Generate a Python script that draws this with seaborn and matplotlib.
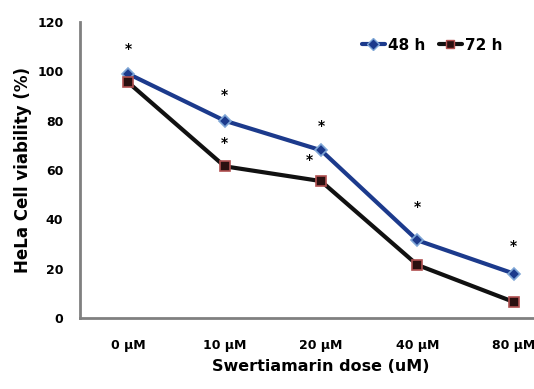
import matplotlib
matplotlib.use("Agg")
import matplotlib.pyplot as plt
import seaborn as sns
import pandas as pd
from matplotlib.lines import Line2D

doses = ["0 µM", "10 µM", "20 µM", "40 µM", "80 µM"]
viab_48 = [99, 80, 68, 31.5, 18]
viab_72 = [95.5, 61.5, 55.5, 21.5, 6.5]
star_48 = [109, 90.5, 78, 45, 29]
star_72 = [None, 71, 64, None, None]
yticks = [0, 20, 40, 60, 80, 100, 120]

sns.set_style("white")
plt.rcParams["font.family"] = ["DejaVu Sans"]
plt.rcParams["font.weight"] = "bold"
plt.rcParams["text.color"] = "black"
plt.rcParams["axes.labelcolor"] = "black"
plt.rcParams["xtick.color"] = "black"
plt.rcParams["ytick.color"] = "black"

df = pd.DataFrame({
    "pos": list(range(len(doses))) * 2,
    "dose": doses * 2,
    "viab": viab_48 + viab_72,
    "time": ["48 h"] * len(doses) + ["72 h"] * len(doses),
})

fig = plt.figure(figsize=(5.34, 3.89), dpi=100)
ax = fig.add_axes([80 / 534, 71 / 389, 482 / 534, 296 / 389])

navy = "#1c3a8c"
sns.lineplot(data=df[df.time == "48 h"], x="pos", y="viab", ax=ax, color=navy,
             lw=3, marker="D", markersize=6, markerfacecolor=navy,
             markeredgecolor="#7ea6d6", markeredgewidth=1.2, legend=False)
sns.lineplot(data=df[df.time == "72 h"], x="pos", y="viab", ax=ax, color="#111111",
             lw=3, marker="s", markersize=7, markerfacecolor="#2a1010",
             markeredgecolor="#b05050", markeredgewidth=1.2, legend=False)

for i, s in enumerate(star_48):
    if s is not None:
        ax.text(i, s, "*", ha="center", va="center", fontsize=10, fontweight="bold", color="black")
offs = [0, 0, -0.12, 0, 0]
for i, s in enumerate(star_72):
    if s is not None:
        ax.text(i + offs[i], s, "*", ha="center", va="center", fontsize=10, fontweight="bold", color="black")

ax.set_xlim(-0.5, 4.5)
ax.set_ylim(0, 120)
ax.set_xticks(range(len(doses)))
ax.set_xticklabels(doses)
ax.set_yticks(yticks)
ax.set_yticklabels([str(v) for v in yticks])
ax.tick_params(axis="x", length=0, pad=15, labelsize=9, labelcolor="black")
ax.tick_params(axis="y", length=0, pad=12, labelsize=9, labelcolor="black")
for lab in ax.get_xticklabels() + ax.get_yticklabels():
    lab.set_fontweight("bold")
ax.set_xlabel("Swertiamarin dose (uM)", fontsize=11.5, fontweight="bold", labelpad=5, color="black")
ax.set_ylabel("HeLa Cell viability (%)", fontsize=12, fontweight="bold", labelpad=4, color="black")

for side in ["top", "right"]:
    ax.spines[side].set_visible(False)
for side in ["left", "bottom"]:
    ax.spines[side].set_color("#808080")
    ax.spines[side].set_linewidth(2)

handles = [
    Line2D([], [], color=navy, lw=3, marker="D", markersize=6, markerfacecolor=navy,
           markeredgecolor="#7ea6d6"),
    Line2D([], [], color="#111111", lw=3, marker="s", markersize=6, markerfacecolor="#2a1010",
           markeredgecolor="#b05050"),
]
leg = fig.legend(handles, ["48 h", "72 h"], loc="center", bbox_to_anchor=(432 / 534, 1 - 45 / 389),
                 ncol=2, frameon=False, handlelength=1.5, handletextpad=0.2, columnspacing=0.9,
                 prop={"weight": "bold", "size": 11})
for t in leg.get_texts():
    t.set_color("black")

fig.savefig("out.png", dpi=100)
